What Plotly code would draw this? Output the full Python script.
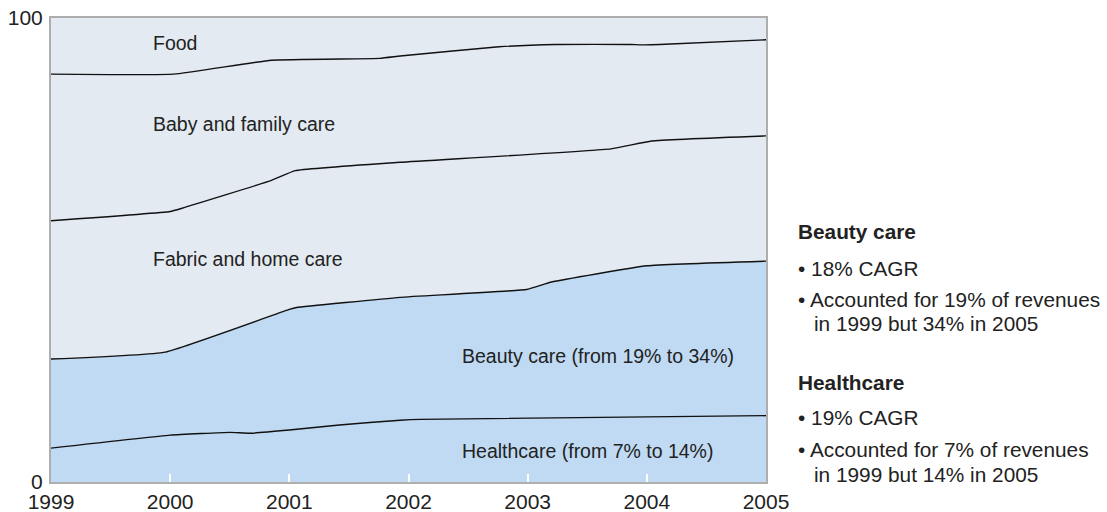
import plotly.graph_objects as go

# Boundary levels (cumulative % of revenues, top edge of each band)
health_x = [1999.0, 2000.0, 2000.5, 2000.67, 2001.0, 2001.42, 2001.93, 2002.1, 2005.0]
health_top = [7.3, 10.1, 10.7, 10.5, 11.2, 12.3, 13.3, 13.5, 14.3]

beauty_x = [1999.0, 1999.96, 2001.0, 2001.06, 2001.93, 2002.99, 2003.2, 2004.0, 2005.0]
beauty_top = [26.5, 28.0, 37.2, 37.6, 39.8, 41.5, 43.1, 46.6, 47.6]

fabric_x = [1999.0, 2000.0, 2000.1, 2000.85, 2001.05, 2001.93, 2003.7, 2004.04, 2005.0]
fabric_top = [56.3, 58.3, 59.0, 65.0, 67.1, 68.9, 71.8, 73.5, 74.6]

baby_x = [1999.0, 2000.03, 2000.85, 2001.76, 2001.93, 2002.76, 2003.24, 2003.87, 2003.95, 2004.2, 2005.0]
baby_top = [87.9, 87.9, 90.9, 91.3, 91.8, 93.8, 94.3, 94.3, 94.2, 94.4, 95.3]

food_x = [1999.0, 2005.0]
food_top = [100, 100]

year_ticks = [1999, 2000, 2001, 2002, 2003, 2004, 2005]
inner_ticks = [2000, 2001, 2002, 2003, 2004]

BLUE = "#BFDAF2"
GREY = "#E3EAF1"
TXT = "#222222"
FONT = "Liberation Sans"

fig = go.Figure()

def band(x, y, fill, color, line_w=1.4):
    fig.add_trace(go.Scatter(
        x=x, y=y, mode="lines", fill=fill, fillcolor=color,
        line=dict(color="#111111", width=line_w, shape="spline", smoothing=0.35),
        hoverinfo="skip", showlegend=False))

band(health_x, health_top, "tozeroy", BLUE)
band(beauty_x, beauty_top, "tonexty", BLUE)
band(fabric_x, fabric_top, "tonexty", GREY)
band(baby_x, baby_top, "tonexty", GREY)
band(food_x, food_top, "tonexty", GREY, line_w=0)

# Band labels
labels = [
    ("Food", 1999.84, 94.6),
    ("Baby and family care", 1999.84, 77.2),
    ("Fabric and home care", 1999.84, 48.1),
    ("Beauty care (from 19% to 34%)", 2002.435, 27.2),
    ("Healthcare (from 7% to 14%)", 2002.435, 6.7),
]
for t, x, y in labels:
    fig.add_annotation(text=t, x=x, y=y, xref="x", yref="y", xanchor="left",
                       yanchor="middle", showarrow=False,
                       font=dict(family=FONT, size=19.5, color=TXT))

# Right-hand notes
notes = [
    ("<b>Beauty care</b>", 1.042, 0.539),
    ("• 18% CAGR", 1.042, 0.461),
    ("• Accounted for 19% of revenues", 1.042, 0.394),
    ("in 1999 but 34% in 2005", 1.0643, 0.341),
    ("<b>Healthcare</b>", 1.042, 0.2155),
    ("• 19% CAGR", 1.042, 0.138),
    ("• Accounted for 7% of revenues", 1.042, 0.0711),
    ("in 1999 but 14% in 2005", 1.0643, 0.0172),
]
for t, x, y in notes:
    fig.add_annotation(text=t, x=x, y=y, xref="paper", yref="paper", xanchor="left",
                       yanchor="middle", showarrow=False,
                       font=dict(family=FONT, size=20.8, color=TXT))

fig.update_layout(
    width=1107, height=512,
    margin=dict(l=51, r=341, t=18, b=30, autoexpand=False),
    paper_bgcolor="white", plot_bgcolor=GREY,
    font=dict(family=FONT, size=21, color=TXT),
    xaxis=dict(range=[1999, 2005], tickvals=year_ticks, ticktext=[str(v) for v in year_ticks],
               showgrid=False, zeroline=False, showline=True, linecolor="#AEAEAE",
               linewidth=2, mirror=True, ticks="", tickfont=dict(size=21, color=TXT),
               ticklabelstandoff=0, automargin=False,
               minor=dict(tickvals=inner_ticks, ticks="inside", ticklen=8, tickwidth=1.5,
                          tickcolor="white", showgrid=False)),
    yaxis=dict(range=[0, 100], tickvals=[0, 100], ticktext=["0", "100"],
               showgrid=False, zeroline=False, showline=True, linecolor="#AEAEAE",
               linewidth=2, mirror=True, ticks="", tickfont=dict(size=21, color=TXT),
               ticklabelstandoff=2, automargin=False),
)

fig.write_html("out.html", config={"displayModeBar": False},
               post_script="document.body.style.margin='0';document.body.style.padding='0';")
